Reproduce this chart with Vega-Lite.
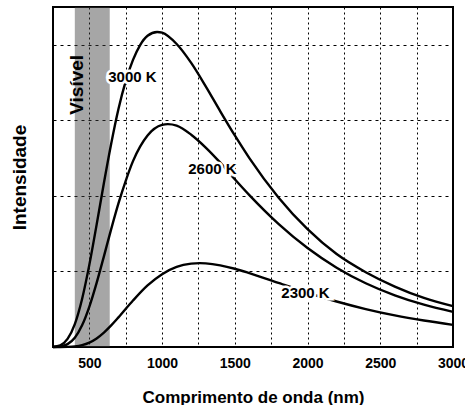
{
  "$schema": "https://vega.github.io/schema/vega-lite/v6.json",
  "width": 400,
  "height": 340,
  "autosize": {"type": "none"},
  "padding": {"left": 53, "top": 7, "right": 12, "bottom": 58},
  "background": "white",
  "config": {
    "font": "Liberation Sans",
    "view": {"stroke": "black", "strokeWidth": 2}
  },
  "datasets": {
    "curves": [
      {"T": "3000 K", "wl": 250, "v": 0.002},
      {"T": "3000 K", "wl": 300, "v": 0.023},
      {"T": "3000 K", "wl": 350, "v": 0.107},
      {"T": "3000 K", "wl": 400, "v": 0.303},
      {"T": "3000 K", "wl": 450, "v": 0.636},
      {"T": "3000 K", "wl": 500, "v": 1.09},
      {"T": "3000 K", "wl": 550, "v": 1.62},
      {"T": "3000 K", "wl": 600, "v": 2.17},
      {"T": "3000 K", "wl": 650, "v": 2.69},
      {"T": "3000 K", "wl": 700, "v": 3.15},
      {"T": "3000 K", "wl": 750, "v": 3.52},
      {"T": "3000 K", "wl": 800, "v": 3.80},
      {"T": "3000 K", "wl": 850, "v": 4.00},
      {"T": "3000 K", "wl": 900, "v": 4.12},
      {"T": "3000 K", "wl": 966, "v": 4.17},
      {"T": "3000 K", "wl": 1000, "v": 4.16},
      {"T": "3000 K", "wl": 1100, "v": 4.01},
      {"T": "3000 K", "wl": 1200, "v": 3.76},
      {"T": "3000 K", "wl": 1300, "v": 3.45},
      {"T": "3000 K", "wl": 1400, "v": 3.12},
      {"T": "3000 K", "wl": 1500, "v": 2.80},
      {"T": "3000 K", "wl": 1600, "v": 2.50},
      {"T": "3000 K", "wl": 1800, "v": 1.98},
      {"T": "3000 K", "wl": 2000, "v": 1.56},
      {"T": "3000 K", "wl": 2200, "v": 1.23},
      {"T": "3000 K", "wl": 2400, "v": 0.99},
      {"T": "3000 K", "wl": 2600, "v": 0.80},
      {"T": "3000 K", "wl": 2800, "v": 0.65},
      {"T": "3000 K", "wl": 3000, "v": 0.54},

      {"T": "2600 K", "wl": 250, "v": 0.0},
      {"T": "2600 K", "wl": 300, "v": 0.007},
      {"T": "2600 K", "wl": 350, "v": 0.038},
      {"T": "2600 K", "wl": 400, "v": 0.123},
      {"T": "2600 K", "wl": 450, "v": 0.287},
      {"T": "2600 K", "wl": 500, "v": 0.535},
      {"T": "2600 K", "wl": 550, "v": 0.849},
      {"T": "2600 K", "wl": 600, "v": 1.20},
      {"T": "2600 K", "wl": 650, "v": 1.56},
      {"T": "2600 K", "wl": 700, "v": 1.90},
      {"T": "2600 K", "wl": 750, "v": 2.20},
      {"T": "2600 K", "wl": 800, "v": 2.46},
      {"T": "2600 K", "wl": 900, "v": 2.80},
      {"T": "2600 K", "wl": 1000, "v": 2.94},
      {"T": "2600 K", "wl": 1040, "v": 2.95},
      {"T": "2600 K", "wl": 1100, "v": 2.93},
      {"T": "2600 K", "wl": 1200, "v": 2.81},
      {"T": "2600 K", "wl": 1300, "v": 2.64},
      {"T": "2600 K", "wl": 1400, "v": 2.44},
      {"T": "2600 K", "wl": 1500, "v": 2.22},
      {"T": "2600 K", "wl": 1600, "v": 2.01},
      {"T": "2600 K", "wl": 1800, "v": 1.63},
      {"T": "2600 K", "wl": 2000, "v": 1.31},
      {"T": "2600 K", "wl": 2200, "v": 1.05},
      {"T": "2600 K", "wl": 2400, "v": 0.844},
      {"T": "2600 K", "wl": 2600, "v": 0.684},
      {"T": "2600 K", "wl": 2800, "v": 0.560},
      {"T": "2600 K", "wl": 3000, "v": 0.465},

      {"T": "2300 K", "wl": 250, "v": 0.0},
      {"T": "2300 K", "wl": 300, "v": 0.0002},
      {"T": "2300 K", "wl": 350, "v": 0.002},
      {"T": "2300 K", "wl": 400, "v": 0.008},
      {"T": "2300 K", "wl": 450, "v": 0.025},
      {"T": "2300 K", "wl": 500, "v": 0.059},
      {"T": "2300 K", "wl": 550, "v": 0.114},
      {"T": "2300 K", "wl": 600, "v": 0.191},
      {"T": "2300 K", "wl": 650, "v": 0.286},
      {"T": "2300 K", "wl": 700, "v": 0.392},
      {"T": "2300 K", "wl": 800, "v": 0.615},
      {"T": "2300 K", "wl": 900, "v": 0.815},
      {"T": "2300 K", "wl": 1000, "v": 0.964},
      {"T": "2300 K", "wl": 1100, "v": 1.06},
      {"T": "2300 K", "wl": 1200, "v": 1.103},
      {"T": "2300 K", "wl": 1260, "v": 1.11},
      {"T": "2300 K", "wl": 1300, "v": 1.107},
      {"T": "2300 K", "wl": 1400, "v": 1.081},
      {"T": "2300 K", "wl": 1500, "v": 1.036},
      {"T": "2300 K", "wl": 1600, "v": 0.978},
      {"T": "2300 K", "wl": 1800, "v": 0.848},
      {"T": "2300 K", "wl": 2000, "v": 0.718},
      {"T": "2300 K", "wl": 2200, "v": 0.602},
      {"T": "2300 K", "wl": 2400, "v": 0.502},
      {"T": "2300 K", "wl": 2600, "v": 0.418},
      {"T": "2300 K", "wl": 2800, "v": 0.350},
      {"T": "2300 K", "wl": 3000, "v": 0.293}
    ],
    "band": [{"wl": 400, "wl2": 640, "v": 0, "v2": 4.5}],
    "labels": [
      {"wl": 796, "v": 3.58, "text": "3000 K"},
      {"wl": 1346, "v": 2.35, "text": "2600 K"},
      {"wl": 1986, "v": 0.72, "text": "2300 K"}
    ],
    "region": [{"wl": 418, "v": 3.47, "text": "Visível"}]
  },
  "encoding": {
    "x": {
      "field": "wl",
      "type": "quantitative",
      "scale": {"domain": [250, 3000], "nice": false, "zero": false},
      "axis": {
        "values": [500, 750, 1000, 1250, 1500, 1750, 2000, 2250, 2500, 2750, 3000],
        "labelExpr": "datum.value % 500 === 0 ? format(datum.value, 'd') : ''",
        "ticks": false,
        "domain": false,
        "grid": true,
        "gridColor": "black",
        "gridDash": [2, 3],
        "gridWidth": 1,
        "labelFontSize": 14,
        "labelFontWeight": "bold",
        "labelColor": "black",
        "labelPadding": 9,
        "labelOverlap": false,
        "labelFlush": false,
        "title": "Comprimento de onda (nm)",
        "titleFontSize": 17,
        "titleFontWeight": "bold",
        "titleColor": "black",
        "titlePadding": 19
      }
    },
    "y": {
      "field": "v",
      "type": "quantitative",
      "scale": {"domain": [0, 4.5], "nice": false},
      "axis": {
        "values": [1, 2, 3, 4],
        "labels": false,
        "ticks": false,
        "domain": false,
        "grid": true,
        "gridColor": "black",
        "gridDash": [3, 4],
        "gridWidth": 1,
        "title": "Intensidade",
        "titleFontSize": 19,
        "titleFontWeight": "bold",
        "titleColor": "black",
        "titlePadding": 24
      }
    }
  },
  "layer": [
    {
      "data": {"name": "band"},
      "mark": {"type": "rect", "color": "#3a3a3a", "opacity": 0.45},
      "encoding": {
        "x2": {"field": "wl2"},
        "y2": {"field": "v2"}
      }
    },
    {
      "data": {"name": "curves"},
      "mark": {"type": "line", "color": "black", "strokeWidth": 2.4, "interpolate": "monotone"},
      "encoding": {"detail": {"field": "T", "type": "nominal"}}
    },
    {
      "data": {"name": "labels"},
      "mark": {"type": "text", "fontSize": 15, "fontWeight": "bold", "fill": "white", "stroke": "white", "strokeWidth": 5},
      "encoding": {"text": {"field": "text"}}
    },
    {
      "data": {"name": "labels"},
      "mark": {"type": "text", "fontSize": 15, "fontWeight": "bold", "fill": "black"},
      "encoding": {"text": {"field": "text"}}
    },
    {
      "data": {"name": "region"},
      "mark": {"type": "text", "angle": 270, "fontSize": 19, "fontWeight": "bold", "fill": "black"},
      "encoding": {"text": {"field": "text"}}
    }
  ]
}
